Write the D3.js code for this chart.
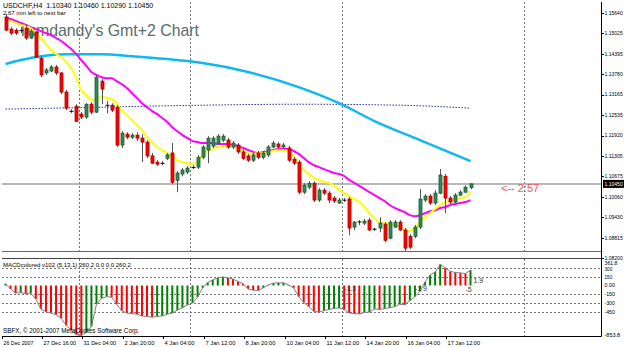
<!DOCTYPE html>
<html><head><meta charset="utf-8">
<script src="https://cdn.jsdelivr.net/npm/d3@7"></script>
<style>body{margin:0;background:#fff}svg{display:block}text{font-family:"Liberation Sans",Arial,sans-serif}</style>
</head><body><svg id="c" width="625" height="347"></svg>
<script>
const opens=[1.1552,1.1515,1.1512,1.1512,1.1518,1.1488,1.1506,1.1427,1.1382,1.1388,
1.1400,1.1382,1.1324,1.1266,1.1281,1.1257,1.1248,1.1287,1.1263,1.1357,
1.1284,1.1284,1.1278,1.1163,1.1196,1.1187,1.1193,1.1184,1.1172,1.1130,
1.1111,1.1108,1.1123,1.1139,1.1056,1.1075,1.1081,1.1093,1.1096,1.1126,
1.1148,1.1160,1.1169,1.1178,1.1178,1.1157,1.1163,1.1142,1.1130,1.1117,
1.1139,1.1126,1.1133,1.1157,1.1166,1.1157,1.1154,1.1120,1.1111,1.1020,
1.1035,1.1047,1.0996,1.1026,1.1017,1.1002,1.0987,1.0996,1.0999,1.0914,
1.0929,1.0926,1.0935,1.0908,1.0911,1.0923,1.0880,1.0914,1.0929,1.0905,
1.0886,1.0886,1.0914,1.0996,1.1008,1.0987,1.1017,1.1068,1.1002,1.0990,
1.1011,1.1020,1.1034];
const highs=[1.1561,1.1521,1.1518,1.1521,1.1528,1.1515,1.1509,1.1433,1.1397,1.1406,
1.1406,1.1385,1.1330,1.1272,1.1287,1.1263,1.1290,1.1293,1.1376,1.1363,
1.1297,1.1290,1.1284,1.1205,1.1202,1.1199,1.1202,1.1196,1.1178,1.1139,
1.1117,1.1114,1.1139,1.1169,1.1084,1.1093,1.1099,1.1102,1.1133,1.1163,
1.1190,1.1190,1.1196,1.1196,1.1184,1.1175,1.1169,1.1148,1.1136,1.1139,
1.1145,1.1145,1.1163,1.1175,1.1172,1.1169,1.1160,1.1126,1.1117,1.1047,
1.1053,1.1053,1.1032,1.1032,1.1023,1.1008,1.1002,1.1002,1.1005,1.0932,
1.0935,1.0938,1.0941,1.0911,1.0944,1.0929,1.0935,1.0935,1.0935,1.0911,
1.0892,1.0920,1.1029,1.1014,1.1014,1.1026,1.1090,1.1075,1.1008,1.1017,
1.1026,1.1041,1.1046];
const lows=[1.1509,1.1497,1.1497,1.1503,1.1482,1.1485,1.1427,1.1369,1.1376,1.1385,
1.1376,1.1318,1.1269,1.1260,1.1233,1.1242,1.1242,1.1257,1.1260,1.1287,
1.1260,1.1263,1.1157,1.1154,1.1181,1.1181,1.1175,1.1111,1.1123,1.1105,
1.1099,1.1102,1.1117,1.1044,1.1020,1.1068,1.1075,1.1090,1.1090,1.1120,
1.1108,1.1154,1.1163,1.1172,1.1151,1.1151,1.1136,1.1117,1.1111,1.1111,
1.1120,1.1120,1.1126,1.1154,1.1154,1.1154,1.1111,1.1102,1.1014,1.1014,
1.1029,1.0990,1.0990,1.1011,1.0987,1.0987,1.0984,1.0990,1.0889,1.0905,
1.0920,1.0920,1.0902,1.0902,1.0898,1.0868,1.0877,1.0911,1.0902,1.0838,
1.0847,1.0880,1.0908,1.0990,1.0981,1.0981,1.1014,1.0956,1.0984,1.0987,
1.1008,1.1017,1.1029];
const closes=[1.1512,1.1503,1.1503,1.1509,1.1488,1.1509,1.1430,1.1376,1.1391,1.1400,
1.1382,1.1324,1.1275,1.1265,1.1235,1.1248,1.1287,1.1263,1.1369,1.1333,
1.1283,1.1269,1.1163,1.1199,1.1187,1.1193,1.1184,1.1172,1.1130,1.1108,
1.1105,1.1107,1.1133,1.1050,1.1078,1.1087,1.1093,1.1096,1.1126,1.1157,
1.1184,1.1184,1.1190,1.1190,1.1157,1.1169,1.1142,1.1123,1.1117,1.1133,
1.1126,1.1139,1.1157,1.1169,1.1157,1.1163,1.1117,1.1108,1.1020,1.1041,
1.1047,1.0996,1.1026,1.1017,1.0996,1.0993,1.0996,1.0995,1.0911,1.0929,
1.0930,1.0932,1.0905,1.0907,1.0926,1.0874,1.0929,1.0929,1.0905,1.0850,
1.0853,1.0914,1.0999,1.1008,1.0987,1.1017,1.1072,1.1002,1.0990,1.1011,
1.1020,1.1035,1.1045];
const maYellow=[1.1543,1.1540,1.1534,1.1528,1.1524,1.1518,1.1503,1.1488,1.1470,1.1452,
1.1439,1.1430,1.1415,1.1397,1.1366,1.1330,1.1315,1.1300,1.1303,1.1309,
1.1306,1.1303,1.1290,1.1269,1.1254,1.1239,1.1224,1.1208,1.1187,1.1172,
1.1157,1.1148,1.1139,1.1127,1.1117,1.1111,1.1108,1.1105,1.1114,1.1133,
1.1145,1.1151,1.1157,1.1157,1.1160,1.1160,1.1151,1.1145,1.1139,1.1136,
1.1139,1.1139,1.1142,1.1145,1.1148,1.1148,1.1145,1.1130,1.1105,1.1087,
1.1075,1.1063,1.1057,1.1051,1.1048,1.1039,1.1027,1.1017,1.1008,1.0999,
1.0990,1.0975,1.0956,1.0941,1.0929,1.0926,1.0923,1.0920,1.0914,1.0905,
1.0902,1.0911,1.0929,1.0944,1.0956,1.0969,1.0981,1.0990,1.0993,1.0999,
1.1002,1.1005,1.1020];
const maMagenta=[1.1549,1.1546,1.1540,1.1534,1.1528,1.1521,1.1515,1.1509,1.1503,1.1497,
1.1488,1.1479,1.1467,1.1455,1.1439,1.1421,1.1403,1.1385,1.1376,1.1369,
1.1366,1.1366,1.1357,1.1348,1.1336,1.1321,1.1306,1.1290,1.1278,1.1266,
1.1257,1.1245,1.1233,1.1217,1.1205,1.1193,1.1184,1.1175,1.1172,1.1169,
1.1169,1.1169,1.1166,1.1166,1.1166,1.1163,1.1160,1.1154,1.1148,1.1142,
1.1139,1.1142,1.1145,1.1148,1.1151,1.1151,1.1151,1.1145,1.1136,1.1124,
1.1111,1.1102,1.1096,1.1090,1.1084,1.1078,1.1075,1.1069,1.1057,1.1048,
1.1039,1.1030,1.1020,1.1011,1.1002,1.0993,1.0981,1.0972,1.0965,1.0959,
1.0950,1.0947,1.0950,1.0956,1.0962,1.0965,1.0972,1.0975,1.0981,1.0984,
1.0987,1.0990,1.0996];
const cyanIdx=[0,3,7,12,19,25,32,39,48,58,66,73,82,92];
const cyanVal=[1.1409,1.1421,1.1433,1.1439,1.1439,1.1433,1.1424,1.1412,1.1385,1.1339,1.1290,1.1236,1.1178,1.1114];
const dotIdx=[0,19,39,58,78,92];
const dotVal=[1.1272,1.1278,1.1284,1.1287,1.1284,1.1275];
const macd=[30,-60,-130,-120,-140,-130,-230,-400,-450,-470,
-500,-560,-680,-760,-840,-853.8,-800,-700,-320,-220,
-190,-200,-320,-430,-470,-480,-490,-520,-530,-540,
-530,-520,-490,-470,-420,-380,-330,-300,-200,-40,
50,95,130,146,130,110,70,30,-60,-80,
-85,-40,10,40,45,46,10,-40,-190,-290,
-360,-440,-455,-430,-410,-390,-385,-410,-470,-480,
-485,-460,-455,-400,-410,-395,-380,-360,-320,-330,
-260,-190,-100,60,180,230,361.8,300,240,222,
215,205,260.2];
const priceTicks=[1.15640,1.15025,1.14395,1.13780,1.13165,1.12535,1.11920,1.11305,1.10675,1.10060,1.09430,1.08815,1.08200];
const macdTicks=[361.8,300,150,0,-150,-300,-450,-853.8];
const macdTickText=["361.8","300","150","0.00","-150","-300","-450","-853.8"];
const macdLevels=[300,150,-150,-300,-450];
const dateLabels=["26 Dec 2007","27 Dec 16:00","31 Dec 04:00","2 Jan 20:00","4 Jan 04:00","7 Jan 12:00","8 Jan 20:00","10 Jan 04:00","11 Jan 12:00","14 Jan 20:00","16 Jan 04:00","17 Jan 12:00"];
const dateBars=[0,8,16,24,32,40,48,56,64,72,80,88];
const separatorBars=[14.5,36.5,66.5,102.5];
const lastPrice=1.10450;
const macdMarks=[{bar:67,v:-100,t:"-1.3"},{bar:81,v:-100,t:"-1.9"},{bar:91,v:-110,t:"-5"},{bar:92.6,v:40,t:"1.9"}];

const svg=d3.select("#c");
const L=2,R=601,mainTop=2,mainBot=251,subTop=259,subBot=336;
const x=d3.scaleLinear().domain([0,92]).range([5.5,470.5]);
const y=d3.scaleLinear().domain([1.0820,1.1564]).range([258,13]);
const ym=d3.scaleLinear().domain([-853.8,0]).range([335.5,285.5]);
const n=closes.length, idx=d3.range(n);

svg.append("rect").attr("width",625).attr("height",347).attr("fill","#fff");
svg.append("clipPath").attr("id","cm").append("rect").attr("x",L).attr("y",mainTop).attr("width",R-L).attr("height",mainBot-mainTop);
svg.append("clipPath").attr("id","cs").append("rect").attr("x",L).attr("y",subTop).attr("width",R-L).attr("height",subBot-subTop);

svg.append("text").attr("x",18).attr("y",36).attr("font-size",17).attr("fill","#5a6b6b")
  .attr("textLength",181).attr("lengthAdjust","spacingAndGlyphs").text("Tumdandy's Gmt+2 Chart");

const sep=svg.append("g");
separatorBars.forEach(b=>{
  const xx=Math.round(x(b))+0.5;
  sep.append("line").attr("x1",xx).attr("x2",xx).attr("y1",mainTop).attr("y2",mainBot).attr("stroke","#777").attr("stroke-dasharray","2,2");
  sep.append("line").attr("x1",xx).attr("x2",xx).attr("y1",subTop).attr("y2",subBot).attr("stroke","#777").attr("stroke-dasharray","2,2");
});

const gm=svg.append("g").attr("clip-path","url(#cm)");
gm.append("line").attr("x1",L).attr("x2",R).attr("y1",y(lastPrice)).attr("y2",y(lastPrice)).attr("stroke","#a0a0a0").attr("stroke-width",1.5);
const ln=d3.line().curve(d3.curveMonotoneX);
gm.append("path").attr("d",ln(dotIdx.map((b,i)=>[x(b),y(dotVal[i])]))).attr("fill","none").attr("stroke","#3030a0").attr("stroke-dasharray","1.5,1.5");
gm.append("path").attr("d",ln(cyanIdx.map((b,i)=>[x(b),y(cyanVal[i])]))).attr("fill","none").attr("stroke","#10b8f0").attr("stroke-width",2.5);
gm.append("path").attr("d",ln(idx.map(i=>[x(i),y(maMagenta[i])]))).attr("fill","none").attr("stroke","#ff00ff").attr("stroke-width",2);
gm.append("path").attr("d",ln(idx.map(i=>[x(i),y(maYellow[i])]))).attr("fill","none").attr("stroke","#ffff00").attr("stroke-width",2);
const cg=gm.append("g");
idx.forEach(i=>{
  const cx=Math.round(x(i))+0.5, up=closes[i]>=opens[i];
  cg.append("line").attr("x1",cx).attr("x2",cx).attr("y1",y(highs[i])).attr("y2",y(lows[i])).attr("stroke","#555");
  const t=y(Math.max(opens[i],closes[i])), b=y(Math.min(opens[i],closes[i]));
  if(b-t<1.2){
    cg.append("line").attr("x1",cx-2).attr("x2",cx+2).attr("y1",(t+b)/2).attr("y2",(t+b)/2).attr("stroke","#000");
  } else {
    cg.append("rect").attr("x",cx-1.5).attr("y",t).attr("width",3).attr("height",b-t)
      .attr("fill",up?"#2e8b57":"#ff0000").attr("stroke",up?"#1f5a33":"#b00000").attr("stroke-width",0.8);
  }
});

const gs=svg.append("g").attr("clip-path","url(#cs)");
macdLevels.forEach(v=>{
  gs.append("line").attr("x1",L).attr("x2",R).attr("y1",Math.round(ym(v))+0.5).attr("y2",Math.round(ym(v))+0.5).attr("stroke","#777").attr("stroke-dasharray","2,2");
});
idx.forEach(i=>{
  const upc= i===0 ? true : macd[i]>=macd[i-1];
  gs.append("line").attr("x1",x(i)).attr("x2",x(i)).attr("y1",ym(0)).attr("y2",ym(macd[i])).attr("stroke",upc?"#008000":"#ff0000").attr("stroke-width",2);
});
gs.append("path").attr("d",d3.line()(idx.map(i=>[x(i),ym(macd[i])]))).attr("fill","none").attr("stroke","#808080").attr("stroke-width",1);
macdMarks.forEach(m=>{
  gs.append("text").attr("x",x(m.bar)).attr("y",ym(m.v)).attr("font-size",7).attr("fill","#333").text(m.t);
});

const fr=svg.append("g").attr("fill","none").attr("stroke","#000");
fr.append("line").attr("x1",R+0.5).attr("x2",R+0.5).attr("y1",mainTop).attr("y2",subBot+0.5);
fr.append("line").attr("x1",L).attr("x2",R+0.5).attr("y1",subBot+0.5).attr("y2",subBot+0.5);
fr.append("line").attr("x1",L).attr("x2",R).attr("y1",mainBot+0.5).attr("y2",mainBot+0.5).attr("stroke","#666");
fr.append("line").attr("x1",L).attr("x2",R).attr("y1",subTop-0.5).attr("y2",subTop-0.5).attr("stroke","#444");

const pa=svg.append("g");
function lbl(g,xx,yy,txt,fill){
  return g.append("text").attr("x",xx).attr("y",yy).attr("dy","0.35em").attr("font-size",5.5).attr("fill",fill)
    .attr("textLength",txt.length*2.6).attr("lengthAdjust","spacingAndGlyphs").text(txt);
}
priceTicks.forEach(p=>{
  pa.append("line").attr("x1",R).attr("x2",R+3).attr("y1",Math.round(y(p))+0.5).attr("y2",Math.round(y(p))+0.5).attr("stroke","#000");
  lbl(pa,R+3.5,y(p),p.toFixed(5),"#000");
});
pa.append("rect").attr("x",R+2).attr("y",y(lastPrice)-4).attr("width",21).attr("height",8).attr("fill","#000");
lbl(pa,R+3.5,y(lastPrice),lastPrice.toFixed(5),"#fff");
macdTicks.forEach((v,i)=>{ lbl(pa,R+3.5,ym(v)+(i===0?-1:i===1?1:0),macdTickText[i],"#000"); });

dateLabels.forEach((t,i)=>{
  const xx=Math.round(x(dateBars[i])-4)+0.5;
  svg.append("line").attr("x1",xx).attr("x2",xx).attr("y1",subBot).attr("y2",subBot+3).attr("stroke","#000");
  svg.append("text").attr("x",xx+1).attr("y",345).attr("font-size",6).attr("fill","#000")
    .attr("textLength",t.length*2.72).attr("lengthAdjust","spacingAndGlyphs").text(t);
});

svg.append("text").attr("x",3).attr("y",8).attr("font-size",7).attr("fill","#000").attr("xml:space","preserve").text("USDCHF,H4  1.10340 1.10460 1.10290 1.10450");
svg.append("text").attr("x",3).attr("y",15).attr("font-size",6).attr("fill","#000").text("2.67 min left to next bar");
svg.append("text").attr("x",3).attr("y",267).attr("font-size",6).attr("fill","#000").text("MACDcolored v102 (5,13,1) 260.2 0.0 0.0 260.2");
svg.append("text").attr("x",3).attr("y",333).attr("font-size",6.3).attr("fill","#000").text("SBFX, \u00a9 2001-2007 MetaQuotes Software Corp.");
svg.append("text").attr("x",501).attr("y",192).attr("font-size",11).attr("fill","#ff5050").attr("xml:space","preserve").text("<-- 2:57");
</script></body></html>
